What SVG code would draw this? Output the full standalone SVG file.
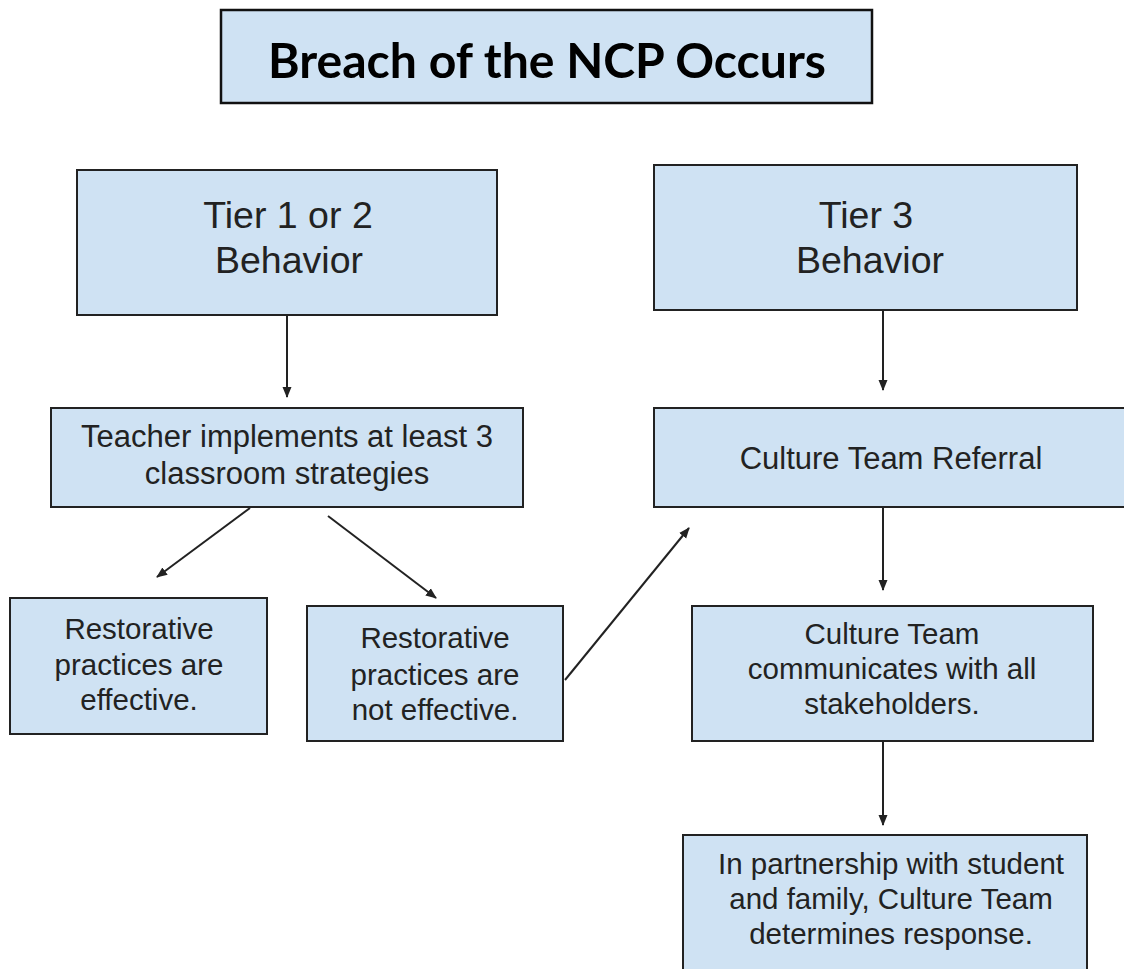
<svg xmlns="http://www.w3.org/2000/svg" width="1124" height="969" viewBox="0 0 1124 969">
<defs>
<style>
.box{fill:#cfe2f3;stroke:#222;stroke-width:2}
.t{font-family:"Liberation Sans",Arial,sans-serif;fill:#222;text-anchor:middle}
.big{font-size:37.5px}
.mid{font-size:29.5px}
.lg{font-size:31px}
.title{font-family:Lato,"Open Sans",sans-serif;font-weight:700;font-size:48px;fill:#000;text-anchor:middle}
.c{stroke:#222;stroke-width:2;fill:none;marker-end:url(#ah)}
</style>
<marker id="ah" markerWidth="11" markerHeight="10" refX="10" refY="5" orient="auto" markerUnits="userSpaceOnUse">
<path d="M0,0.5 L11,5 L0,9.5 Z" fill="#222"/>
</marker>
</defs>
<rect width="1124" height="969" fill="#fff"/>
<g id="title">
<rect x="221" y="10" width="651" height="93" fill="#cfe2f3" stroke="#111" stroke-width="2.5"/>
<text class="title" x="547" y="78" textLength="558" lengthAdjust="spacingAndGlyphs">Breach of the NCP Occurs</text>
</g>
<g id="tier12">
<rect class="box" x="77" y="170" width="420" height="145"/>
<text class="t big" x="288" y="228">Tier 1 or 2</text>
<text class="t big" x="289" y="273">Behavior</text>
</g>
<g id="tier3">
<rect class="box" x="654" y="165" width="423" height="145"/>
<text class="t big" x="866" y="228">Tier 3</text>
<text class="t big" x="870" y="273">Behavior</text>
</g>
<g id="teacher">
<rect class="box" x="51" y="408" width="472" height="99"/>
<text class="t lg" x="287" y="447">Teacher implements at least 3</text>
<text class="t lg" x="287" y="484">classroom strategies</text>
</g>
<g id="referral">
<rect class="box" x="654" y="408" width="480" height="99"/>
<text class="t lg" x="891" y="469">Culture Team Referral</text>
</g>
<g id="effective">
<rect class="box" x="10" y="598" width="257" height="136"/>
<text class="t mid" x="139" y="639">Restorative</text>
<text class="t mid" x="139" y="675">practices are</text>
<text class="t mid" x="139" y="710">effective.</text>
</g>
<g id="noteffective">
<rect class="box" x="307" y="606" width="256" height="135"/>
<text class="t mid" x="435" y="648">Restorative</text>
<text class="t mid" x="435" y="685">practices are</text>
<text class="t mid" x="435" y="720">not effective.</text>
</g>
<g id="communicates">
<rect class="box" x="692" y="606" width="401" height="135"/>
<text class="t mid" x="892" y="644">Culture Team</text>
<text class="t mid" x="892" y="679">communicates with all</text>
<text class="t mid" x="892" y="714">stakeholders.</text>
</g>
<g id="response">
<rect class="box" x="683" y="835" width="404" height="150"/>
<text class="t mid" x="891" y="874">In partnership with student</text>
<text class="t mid" x="891" y="909">and family, Culture Team</text>
<text class="t mid" x="891" y="944">determines response.</text>
</g>
<g id="connectors">
<line class="c" x1="287" y1="315" x2="287" y2="397"/>
<line class="c" x1="883" y1="310" x2="883" y2="390"/>
<line class="c" x1="250" y1="508" x2="157" y2="577"/>
<line class="c" x1="328" y1="516" x2="436" y2="598"/>
<line class="c" x1="565" y1="680" x2="689" y2="528"/>
<line class="c" x1="883" y1="508" x2="883" y2="590"/>
<line class="c" x1="883" y1="741" x2="883" y2="825"/>
</g>
</svg>
